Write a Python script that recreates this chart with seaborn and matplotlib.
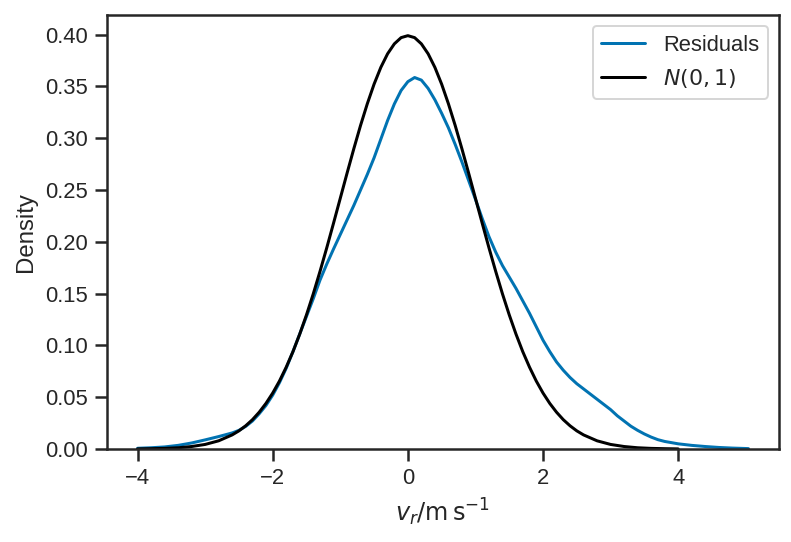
import numpy as np
import pandas as pd
import matplotlib
matplotlib.use("Agg")
import matplotlib.pyplot as plt
import seaborn as sns

# Residuals KDE curve
resid_x = [-4.0, -3.8, -3.6, -3.4, -3.2, -3.0, -2.8, -2.6, -2.5, -2.4, -2.3, -2.2,
           -2.1, -2.0, -1.9, -1.8, -1.7, -1.6, -1.5, -1.4, -1.3, -1.2, -1.1, -1.0,
           -0.9, -0.8, -0.7, -0.6, -0.5, -0.4, -0.3, -0.2, -0.1, 0.0, 0.1, 0.2,
           0.3, 0.4, 0.5, 0.6, 0.7, 0.8, 0.9, 1.0, 1.1, 1.2, 1.3, 1.4, 1.5, 1.6,
           1.7, 1.8, 1.9, 2.0, 2.1, 2.2, 2.3, 2.4, 2.5, 2.6, 2.7, 2.8, 2.9, 3.0,
           3.1, 3.2, 3.3, 3.4, 3.5, 3.6, 3.7, 3.8, 4.0, 4.2, 4.4, 4.6, 4.8, 5.04]
resid_d = [0.0007, 0.0012, 0.0020, 0.0035, 0.0058, 0.0088, 0.0120, 0.0155, 0.0180,
           0.0218, 0.0270, 0.0340, 0.0420, 0.0520, 0.0640, 0.0780, 0.0940, 0.1110,
           0.1280, 0.1450, 0.1630, 0.1785, 0.1930, 0.2070, 0.2210, 0.2350, 0.2500,
           0.2650, 0.2810, 0.2990, 0.3170, 0.3330, 0.3460, 0.3545, 0.3585, 0.3560,
           0.3480, 0.3370, 0.3240, 0.3100, 0.2940, 0.2770, 0.2590, 0.2410, 0.2225,
           0.2050, 0.1900, 0.1770, 0.1660, 0.1550, 0.1430, 0.1310, 0.1180, 0.1050,
           0.0940, 0.0840, 0.0760, 0.0690, 0.0630, 0.0580, 0.0530, 0.0480, 0.0430,
           0.0380, 0.0320, 0.0270, 0.0220, 0.0180, 0.0145, 0.0115, 0.0090, 0.0073,
           0.0050, 0.0035, 0.0024, 0.0015, 0.0009, 0.0004]

# N(0,1) reference curve
norm_x = [-4.0, -3.8, -3.6, -3.4, -3.2, -3.0, -2.8, -2.6, -2.5, -2.4, -2.3, -2.2,
          -2.1, -2.0, -1.9, -1.8, -1.7, -1.6, -1.5, -1.4, -1.3, -1.2, -1.1, -1.0,
          -0.9, -0.8, -0.7, -0.6, -0.5, -0.4, -0.3, -0.2, -0.1, 0.0, 0.1, 0.2,
          0.3, 0.4, 0.5, 0.6, 0.7, 0.8, 0.9, 1.0, 1.1, 1.2, 1.3, 1.4, 1.5, 1.6,
          1.7, 1.8, 1.9, 2.0, 2.1, 2.2, 2.3, 2.4, 2.5, 2.6, 2.8, 3.0, 3.2, 3.4,
          3.6, 3.8, 4.0]
norm_d = [0.0001, 0.0003, 0.0006, 0.0012, 0.0024, 0.0044, 0.0079, 0.0136, 0.0175,
          0.0224, 0.0283, 0.0355, 0.0440, 0.0540, 0.0656, 0.0790, 0.0940, 0.1109,
          0.1295, 0.1497, 0.1714, 0.1942, 0.2179, 0.2420, 0.2661, 0.2897, 0.3123,
          0.3332, 0.3521, 0.3683, 0.3814, 0.3910, 0.3970, 0.3989, 0.3970, 0.3910,
          0.3814, 0.3683, 0.3521, 0.3332, 0.3123, 0.2897, 0.2661, 0.2420, 0.2179,
          0.1942, 0.1714, 0.1497, 0.1295, 0.1109, 0.0940, 0.0790, 0.0656, 0.0540,
          0.0440, 0.0355, 0.0283, 0.0224, 0.0175, 0.0136, 0.0079, 0.0044, 0.0024,
          0.0012, 0.0006, 0.0003, 0.0001]

DPI = 144
sns.set_theme(style="ticks", context="notebook", palette="colorblind")
plt.rcParams["font.family"] = ["Liberation Sans", "DejaVu Sans"]

fig = plt.figure(figsize=(791 / DPI, 542 / DPI), dpi=DPI)
ax = fig.add_axes([107 / 791, 1 - 449 / 542, (779 - 107) / 791, (449 - 15) / 542])

df_r = pd.DataFrame({"x": resid_x, "d": resid_d})
df_n = pd.DataFrame({"x": norm_x, "d": norm_d})
sns.lineplot(data=df_r, x="x", y="d", ax=ax, color=sns.color_palette("colorblind")[0],
             label="Residuals")
sns.lineplot(data=df_n, x="x", y="d", ax=ax, color="black", label="$N(0, 1)$")

ax.set_ylim(bottom=0)
ax.set_xlabel(r"$v_r/\mathrm{m\,s^{-1}}$")
ax.set_ylabel("Density")
ax.legend(loc="upper right")

fig.savefig("out.png", dpi=DPI)
